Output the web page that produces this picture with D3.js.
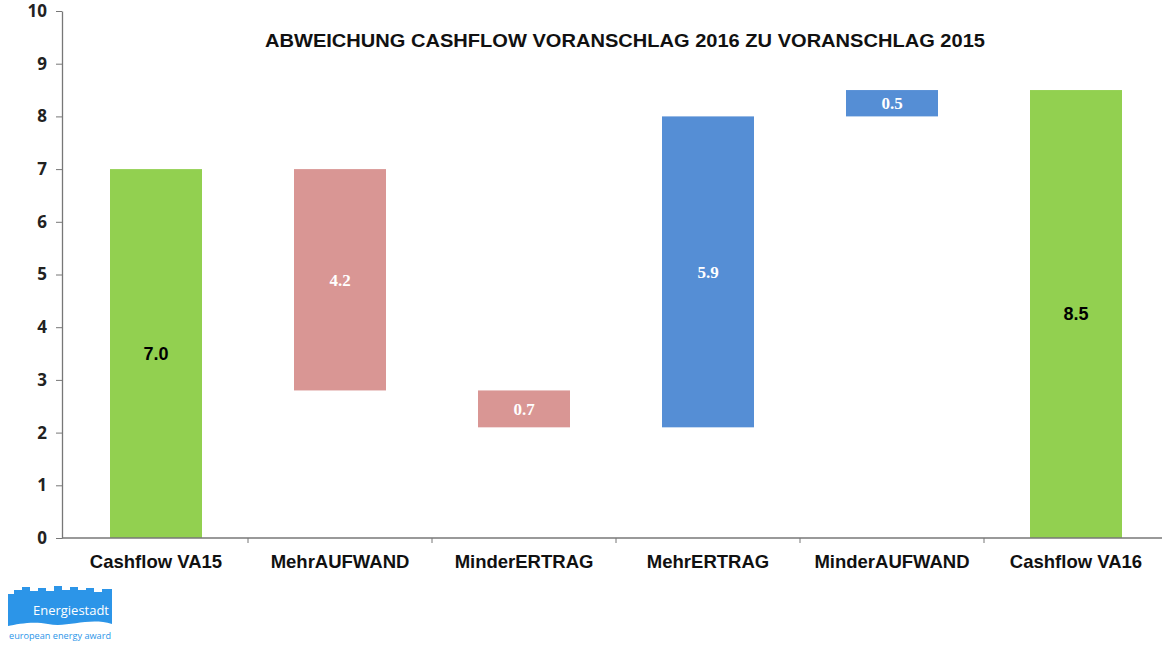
<!DOCTYPE html>
<html>
<head>
<meta charset="utf-8">
<script src="https://cdn.jsdelivr.net/npm/d3@7"></script>
<style>
  html, body { margin: 0; padding: 0; background: #fff; }
  svg { display: block; }
</style>
</head>
<body>
<svg id="chart" width="1162" height="645"></svg>
<script>
// Waterfall: cash flow budget 2016 vs budget 2015
const categories = ["Cashflow VA15", "MehrAUFWAND", "MinderERTRAG", "MehrERTRAG", "MinderAUFWAND", "Cashflow VA16"];
const barStart = [0, 2.8, 2.1, 2.1, 8.0, 0];
const barEnd   = [7.0, 7.0, 2.8, 8.0, 8.5, 8.5];
const barLabel = ["7.0", "4.2", "0.7", "5.9", "0.5", "8.5"];
const barKind  = ["total", "neg", "neg", "pos", "pos", "total"];
const yTicks   = [0, 1, 2, 3, 4, 5, 6, 7, 8, 9, 10];

const colors = { total: "#92D050", neg: "#D99694", pos: "#558ED5" };

const svg = d3.select("#chart");
const axisX = 62, x0 = 64, x1 = 1168, yTop = 11, yBottom = 538;

const x = d3.scaleBand().domain(categories).range([x0, x1]).paddingInner(0).paddingOuter(0);
const y = d3.scaleLinear().domain([0, 10]).range([yBottom, yTop]);

// Title
svg.append("text")
  .attr("x", 625).attr("y", 47)
  .attr("text-anchor", "middle")
  .attr("font-family", "'Liberation Sans Narrow', 'Arial Narrow', 'Liberation Sans', Arial, sans-serif")
  .attr("font-weight", "bold")
  .attr("font-size", 19)
  .attr("textLength", 720)
  .attr("lengthAdjust", "spacingAndGlyphs")
  .attr("fill", "#111")
  .text("ABWEICHUNG CASHFLOW VORANSCHLAG 2016 ZU VORANSCHLAG 2015");

// Bars
const data = categories.map((c, i) => ({ c, s: barStart[i], e: barEnd[i], label: barLabel[i], kind: barKind[i] }));
const bw = x.bandwidth() * 0.5;

svg.append("g").selectAll("rect").data(data).join("rect")
  .attr("x", d => x(d.c) + (x.bandwidth() - bw) / 2)
  .attr("width", bw)
  .attr("y", d => y(d.e))
  .attr("height", d => y(d.s) - y(d.e))
  .attr("fill", d => colors[d.kind]);

// Value labels
svg.append("g").selectAll("text").data(data).join("text")
  .attr("x", d => x(d.c) + x.bandwidth() / 2)
  .attr("y", d => y((d.s + d.e) / 2) + 6)
  .attr("text-anchor", "middle")
  .attr("font-weight", "bold")
  .attr("font-family", d => d.kind === "total" ? "'Liberation Sans', Arial, sans-serif" : "'Liberation Serif', 'DejaVu Serif', serif")
  .attr("font-size", d => d.kind === "total" ? 18 : 17)
  .attr("fill", d => d.kind === "total" ? "#000" : "#fff")
  .text(d => d.label);

// Y axis
const yAxis = svg.append("g")
  .attr("transform", `translate(${axisX},0)`)
  .call(d3.axisLeft(y).tickValues(yTicks).tickSize(6).tickSizeOuter(0).tickFormat(d3.format("d")));
yAxis.select(".domain").attr("stroke", "#777").attr("stroke-width", 1.3);
yAxis.selectAll(".tick line").attr("stroke", "#777");
yAxis.selectAll(".tick text")
  .attr("x", -15)
  .attr("font-family", "'Open Sans', 'DejaVu Sans', sans-serif")
  .attr("font-weight", "bold")
  .attr("font-size", 17)
  .attr("fill", "#222");

// X axis
const xAxis = svg.append("g")
  .attr("transform", `translate(0,${yBottom})`)
  .call(d3.axisBottom(x).tickSize(0).tickSizeOuter(0));
xAxis.select(".domain").attr("stroke", "#777").attr("stroke-width", 1.3)
  .attr("d", `M${axisX},0H${x1}`);
xAxis.selectAll(".tick text")
  .attr("y", 17)
  .attr("font-family", "'Liberation Sans', Arial, sans-serif")
  .attr("font-weight", "bold")
  .attr("font-size", 18.5)
  .attr("fill", "#111");
// band separators
xAxis.append("g").selectAll("line").data(categories.slice(1)).join("line")
  .attr("x1", d => x(d)).attr("x2", d => x(d))
  .attr("y1", 0).attr("y2", 5)
  .attr("stroke", "#777");

// Energiestadt logo
const logo = svg.append("g").attr("transform", "translate(8,586)");
logo.append("path")
  .attr("d", "M0,8 L6,8 L6,4 L14,4 L14,1 L22,1 L22,5 L30,5 L30,2 L38,2 L38,5 L46,5 L46,0 L54,0 L54,4 L62,4 L62,1 L70,1 L70,4 L78,4 L78,2 L86,2 L86,6 L94,6 L94,3 L104,3 L104,38 C80,31 60,42 40,38 C25,35 10,38 0,40 Z")
  .attr("fill", "#2C95E8");
logo.append("text")
  .attr("x", 101).attr("y", 29)
  .attr("text-anchor", "end")
  .attr("font-family", "'Open Sans', 'DejaVu Sans', sans-serif")
  .attr("font-size", 13.5)
  .attr("fill", "#fff")
  .attr("textLength", 76)
  .attr("lengthAdjust", "spacingAndGlyphs")
  .text("Energiestadt");
logo.append("text")
  .attr("x", 1).attr("y", 53)
  .attr("font-family", "'Open Sans', 'DejaVu Sans', sans-serif")
  .attr("font-size", 9)
  .attr("fill", "#2C95E8")
  .attr("textLength", 102)
  .attr("lengthAdjust", "spacingAndGlyphs")
  .text("european energy award");
</script>
</body>
</html>
